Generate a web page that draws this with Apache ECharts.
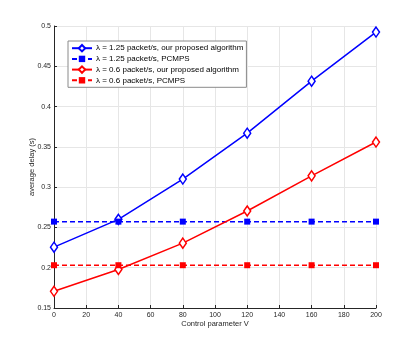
<!DOCTYPE html>
<html>
<head>
<meta charset="utf-8">
<script src="https://cdn.jsdelivr.net/npm/echarts@6/dist/echarts.min.js"></script>
<style>
html, body { margin: 0; padding: 0; background: #fff; }
#chart { width: 415px; height: 346px; }
</style>
</head>
<body>
<div id="chart"></div>
<script>
// 控制参数 V
var xValues = [0, 40, 80, 120, 160, 200];
// 平均时延 (s)
var highProposed = [0.2255, 0.260, 0.310, 0.367, 0.4315, 0.4925];
var highPcmps = [0.2572, 0.2572, 0.2572, 0.2572, 0.2572, 0.2572];
var lowProposed = [0.1707, 0.1978, 0.2305, 0.2704, 0.314, 0.356];
var lowPcmps = [0.2031, 0.2031, 0.2031, 0.2031, 0.2031, 0.2031];
var seriesNames = [
    'λ = 1.25 packet/s, our proposed algorithm',
    'λ = 1.25 packet/s, PCMPS',
    'λ = 0.6 packet/s, our proposed algorithm',
    'λ = 0.6 packet/s, PCMPS'
];

function pairs(ys) {
    return xValues.map(function (x, i) { return [x, ys[i]]; });
}

function makeSeries(name, ys, color, dashed) {
    return {
        name: name,
        type: 'line',
        data: pairs(ys),
        symbol: dashed ? 'rect' : 'diamond',
        symbolSize: dashed ? 6 : [7, 10],
        showAllSymbol: true,
        itemStyle: {
            color: dashed ? color : '#fff',
            borderColor: color,
            borderWidth: dashed ? 0 : 1.5
        },
        lineStyle: {
            color: color,
            width: 1.5,
            type: dashed ? [5, 3] : 'solid'
        },
        emphasis: { disabled: true },
        animation: false
    };
}

var dom = document.getElementById('chart');
var myChart = echarts.init(dom, null, { renderer: 'canvas' });
var option = {
    backgroundColor: '#fff',
    animation: false,
    grid: { left: 54, right: 39, top: 26, bottom: 38, containLabel: false },
    legend: {
        left: 68,
        top: 41,
        orient: 'vertical',
        itemWidth: 20,
        itemHeight: 8,
        itemGap: 2.5,
        padding: [3, 3, 3, 3],
        borderColor: '#8a8a8a',
        borderWidth: 1,
        backgroundColor: '#fff',
        textStyle: { fontSize: 8, color: '#000', fontFamily: 'Liberation Sans', padding: [0, 0, 0, -1] },
        data: seriesNames
    },
    xAxis: {
        type: 'value',
        min: 0,
        max: 200,
        interval: 20,
        name: 'Control parameter V',
        nameLocation: 'middle',
        nameGap: 12,
        nameMoveOverlap: false,
        nameTextStyle: { fontSize: 7.5, color: '#262626', fontFamily: 'Liberation Sans' },
        axisLine: { lineStyle: { color: '#262626', width: 1 } },
        axisTick: { inside: true, length: 3, lineStyle: { color: '#262626' } },
        axisLabel: { color: '#262626', fontSize: 7, fontFamily: 'Liberation Sans', margin: 4 },
        splitLine: { show: true, lineStyle: { color: '#e6e6e6', width: 1 } }
    },
    yAxis: {
        type: 'value',
        min: 0.15,
        max: 0.5,
        interval: 0.05,
        name: 'average delay (s)',
        nameLocation: 'middle',
        nameGap: 18,
        nameMoveOverlap: false,
        nameTextStyle: { fontSize: 7.5, color: '#262626', fontFamily: 'Liberation Sans' },
        axisLine: { show: true, lineStyle: { color: '#262626', width: 1 } },
        axisTick: { show: true, inside: true, length: 3, lineStyle: { color: '#262626' } },
        axisLabel: {
            color: '#262626', fontSize: 7, fontFamily: 'Liberation Sans', margin: 3,
            formatter: function (v) { return String(parseFloat(v.toFixed(2))); }
        },
        splitLine: { show: true, lineStyle: { color: '#e6e6e6', width: 1 } }
    },
    series: [
        makeSeries(seriesNames[0], highProposed, '#0000ff', false),
        makeSeries(seriesNames[1], highPcmps, '#0000ff', true),
        makeSeries(seriesNames[2], lowProposed, '#ff0000', false),
        makeSeries(seriesNames[3], lowPcmps, '#ff0000', true)
    ]
};
myChart.setOption(option);
</script>
</body>
</html>
